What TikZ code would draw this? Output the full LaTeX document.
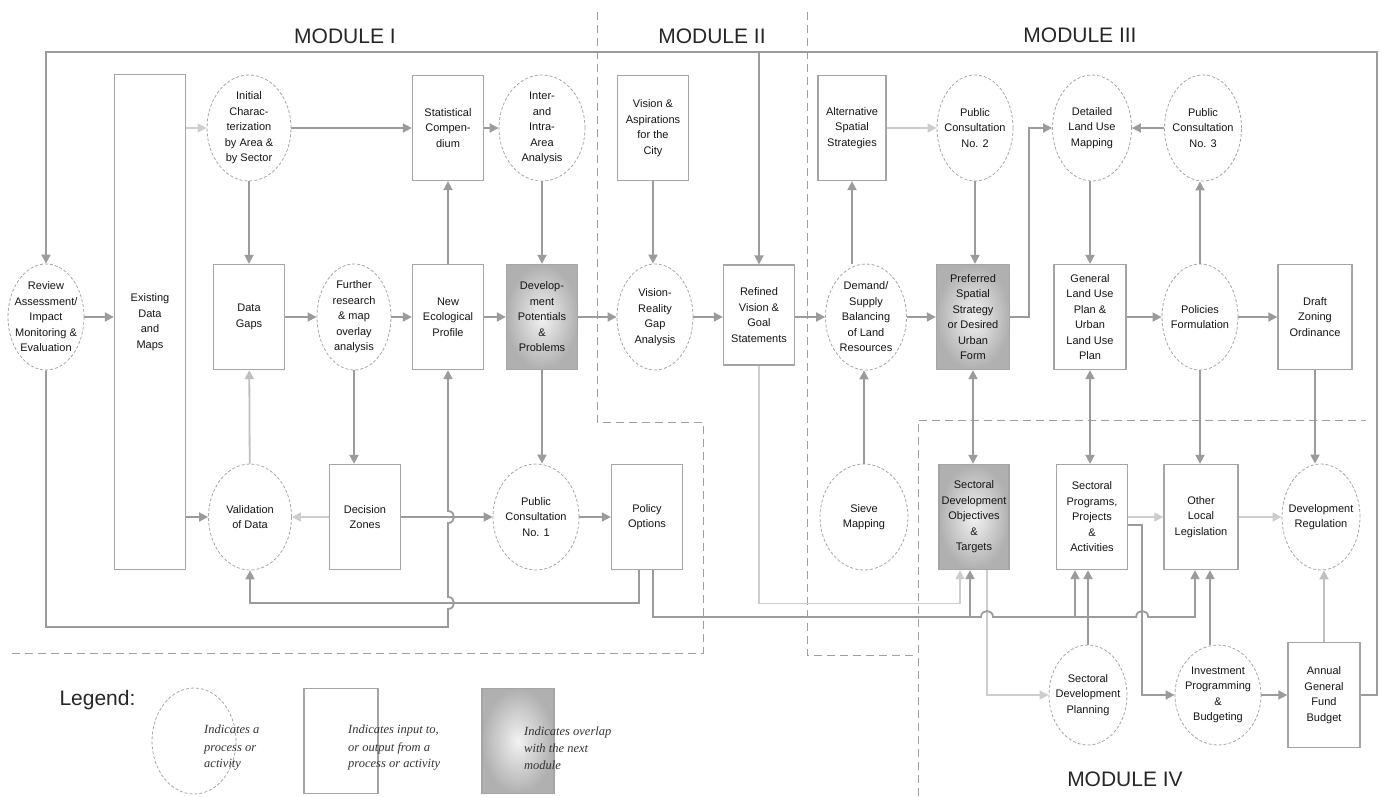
\documentclass[tikz,border=0pt]{standalone}
\usepackage{fontspec}
\setmainfont{Liberation Sans}
\newfontfamily\legserif{Liberation Serif}
\usepackage{xcolor}
\usepackage{tikz}
\usetikzlibrary{arrows.meta,shapes.geometric}

\definecolor{lngray}{RGB}{155,155,155}
\definecolor{ltgray}{RGB}{205,205,205}
\definecolor{bxgray}{RGB}{165,165,165}
\definecolor{txgray}{RGB}{20,20,20}

\newcommand\lblfont{\fontsize{11}{15.5}\selectfont}
\newcommand\titlefont{\fontsize{21}{25}\selectfont}

\tikzset{
  box/.style={rectangle, draw=bxgray, line width=1.3pt, minimum width=71, minimum height=105,
    inner sep=1pt, align=center, text=txgray, font=\lblfont},
  proc/.style={ellipse, draw=bxgray, line width=0.8pt, dash pattern=on 3pt off 2pt,
    minimum width=80, minimum height=106, inner xsep=-10pt, inner ysep=-10pt,
    align=center, text=txgray, font=\lblfont},
  overlap/.style={box, inner color=gray!10, outer color=gray!62},
  arr/.style={draw=lngray, line width=1.8pt, -{Triangle[length=9pt,width=9pt]}},
  farr/.style={arr, draw=ltgray, line width=1.2pt},
  darr/.style={arr, {Triangle[length=9pt,width=9pt]}-{Triangle[length=9pt,width=9pt]}},
  modline/.style={draw=gray!75, line width=0.9pt, dash pattern=on 8pt off 5pt},
  title/.style={font=\titlefont, text=black!85},
  legtext/.style={font=\legserif\itshape\fontsize{12.5}{17}\selectfont, align=left,
    inner sep=0pt, anchor=west, text=black!80}
}

\begin{document}
\begin{tikzpicture}[x=1pt,y=-1pt]
  \path[use as bounding box] (0,0) rectangle (1382,796);

  \node[title] (mod1) at (345,36) {MODULE I};
  \node[title] (mod2) at (712,36) {MODULE II};
  \node[title] (mod3) at (1080,35) {MODULE III};
  \node[title] (mod4) at (1125,779) {MODULE IV};

  \draw[modline] (597,12) -- (597,422) -- (703,422) -- (703,653) -- (8,653);
  \draw[modline] (807,12) -- (807,655) -- (918,655);
  \draw[modline] (918,796) -- (918,420) -- (1366,420);

  % module I
  \node[box, minimum height=495] (exist) at (150,322) {Existing\\Data\\and\\Maps};
  \node[proc, minimum width=84] (ichar) at (249,128) {Initial\\Charac-\\terization\\by Area \&\\by Sector};
  \node[box] (stat) at (448,128) {Statistical\\Compen-\\dium};
  \node[proc, minimum width=86] (inter) at (542,128) {Inter-\\and\\Intra-\\Area\\Analysis};
  \node[proc, minimum width=76] (review) at (46,317) {Review\\Assessment/\\Impact\\Monitoring \&\\Evaluation};
  \node[box] (dgaps) at (249,317) {Data\\Gaps};
  \node[proc, minimum width=74] (further) at (354,317) {Further\\research\\\& map\\overlay\\analysis};
  \node[box] (neweco) at (448,317) {New\\Ecological\\Profile};
  \node[overlap] (devpot) at (542,317) {Develop-\\ment\\Potentials\\\&\\Problems};
  \node[proc, minimum width=83] (valid) at (250,517) {Validation\\of Data};
  \node[box] (dzones) at (365,517) {Decision\\Zones};
  \node[proc, minimum width=86] (pc1) at (536,517) {Public\\Consultation\\No. 1};
  \node[box] (polopt) at (647,517) {Policy\\Options};

  % module II
  \node[box] (vision) at (653,128) {Vision \&\\Aspirations\\for the\\City};
  \node[proc, minimum width=76] (vrgap) at (655,317) {Vision-\\Reality\\Gap\\Analysis};
  \node[box, minimum height=100] (refined) at (759,315) {Refined\\Vision \&\\Goal\\Statements};

  % module III
  \node[box, minimum width=68] (altsp) at (852,128) {Alternative\\Spatial\\Strategies};
  \node[proc, minimum width=76] (pc2) at (975,128) {Public\\Consultation\\No. 2};
  \node[proc, minimum width=79] (detlu) at (1092,128) {Detailed\\Land Use\\Mapping};
  \node[proc, minimum width=77] (pc3) at (1203,128) {Public\\Consultation\\No. 3};
  \node[proc, minimum width=81] (demand) at (866,317) {Demand/\\Supply\\Balancing\\of Land\\Resources};
  \node[overlap, minimum width=73] (prefsp) at (973,317) {Preferred\\Spatial\\Strategy\\or Desired\\Urban\\Form};
  \node[box, minimum width=72] (genlu) at (1090,317) {General\\Land Use\\Plan \&\\Urban\\Land Use\\Plan};
  \node[proc, minimum width=76] (polform) at (1200,317) {Policies\\Formulation};
  \node[box, minimum width=74] (draftz) at (1315,317) {Draft\\Zoning\\Ordinance};
  \node[proc, minimum width=88] (sieve) at (864,517) {Sieve\\Mapping};

  % module IV
  \node[overlap, minimum width=70] (secobj) at (974,517) {Sectoral\\Development\\Objectives\\\&\\Targets};
  \node[box] (secprog) at (1092,517) {Sectoral\\Programs,\\Projects\\\&\\Activities};
  \node[box, minimum width=74] (othleg) at (1201,517) {Other\\Local\\Legislation};
  \node[proc, minimum width=78] (devreg) at (1321,517) {Development\\Regulation};
  \node[proc, minimum width=78, minimum height=100] (secplan) at (1088,695) {Sectoral\\Development\\Planning};
  \node[proc, minimum width=86, minimum height=100] (invest) at (1218,695) {Investment\\Programming\\\&\\Budgeting};
  \node[box, minimum width=72] (annual) at (1324,695) {Annual\\General\\Fund\\Budget};

  % legend
  \node[title, anchor=west] (legend) at (56,700) {Legend:};
  \node[proc, minimum width=84] (lgproc) at (194,741) {};
  \node[legtext] (lgproctxt) at (204,748) {Indicates a\\process or\\activity};
  \node[box, minimum width=74] (lgbox) at (341,741) {};
  \node[legtext] (lgboxtxt) at (348,748) {Indicates input to,\\or output from a\\process or activity};
  \node[overlap, minimum width=72] (lgover) at (518,741) {};
  \node[legtext] (lgovertxt) at (524,748) {Indicates overlap\\with the next\\module};

  \coordinate (fl) at (46,52);
  \coordinate (fr) at (1377,52);
  \coordinate (bl) at (46,627);
  \coordinate (pline) at (0,617);
  \coordinate (hopa) at ([xshift=13]secobj.south |- pline);
  \coordinate (hopb) at ([xshift=14]secprog.east |- pline);

  % feedback frame
  \draw[arr] (annual.east) -- (annual.east -| fr) -- (fr) -- (fl) -- (review.north);
  \draw[arr] (review.south) -- (bl) -- (bl -| neweco.south) -- ++(0,-18)
    .. controls +(8,0) and +(8,0) .. ++(0,-12) -- ++(0,-74)
    .. controls +(8,0) and +(8,0) .. ++(0,-12) -- (neweco.south);
  \draw[arr] (refined.north |- fl) -- (refined.north);

  % module I links
  \draw[farr] (exist.east |- ichar) -- (ichar);
  \draw[arr] (ichar) -- (stat);
  \draw[arr] (stat) -- (inter);
  \draw[arr] (ichar) -- (dgaps);
  \draw[arr] (review.east) -- (review.east -| exist.west);
  \draw[arr] (dgaps) -- (further);
  \draw[arr] (further) -- (neweco);
  \draw[arr] (neweco) -- (stat);
  \draw[arr] (neweco) -- (devpot);
  \draw[arr] (inter) -- (devpot);
  \draw[arr] (further.south) -- (further.south |- dzones.north);
  \draw[arr, draw=gray!50] (valid) -- (dgaps);
  \draw[arr] (exist.east |- valid) -- (valid);
  \draw[farr] (dzones) -- (valid);
  \draw[arr] (dzones) -- (pc1);
  \draw[arr] (devpot.south) -- (devpot.south |- pc1.north);
  \draw[arr] (pc1) -- (polopt);
  \draw[arr] ([xshift=-8]polopt.south) -- ++(0,33) -| (valid.south);

  % module II links
  \draw[arr] (devpot) -- (vrgap);
  \draw[arr] (vision.south) -- (vision.south |- vrgap.north);
  \draw[arr] (vrgap) -- (vrgap -| refined.west);
  \draw[arr] (refined.east |- demand) -- (demand);

  % module III links
  \draw[arr] (altsp.south |- demand.north) -- (altsp.south);
  \draw[farr] (altsp) -- (pc2);
  \draw[arr] (pc2.south) -- (pc2.south |- prefsp.north);
  \draw[arr] (demand) -- (prefsp);
  \draw[arr] (prefsp.east) -- ++(19,0) |- (detlu.west);
  \draw[arr] (pc3) -- (detlu);
  \draw[arr] (detlu.south -| genlu.north) -- (genlu.north);
  \draw[arr] (genlu) -- (polform);
  \draw[arr] (polform.north) -- (polform.north |- pc3.south);
  \draw[arr] (polform) -- (draftz);
  \draw[arr] (sieve.north) -- (sieve.north |- demand.south);
  \draw[darr] (prefsp.south) -- (prefsp.south |- secobj.north);
  \draw[darr] (genlu.south) -- (genlu.south |- secprog.north);
  \draw[arr] (polform.south) -- (polform.south |- othleg.north);
  \draw[arr] (draftz.south) -- (draftz.south |- devreg.north);

  % module IV links
  \draw[farr] (secprog) -- (othleg);
  \draw[farr] (othleg) -- (devreg);
  \draw[arr, draw=gray!50] (annual.north) -- (annual.north |- devreg.south);
  \draw[arr] (invest) -- (annual);
  \draw[arr] ([yshift=-8]secprog.east) -- ++(14,0) |- (invest.west);
  \draw[arr] ([xshift=-8]invest.north) -- ([xshift=-8]invest.north |- othleg.south);
  \draw[arr] (secplan.north) -- (secplan.north |- secprog.south);
  \draw[farr] ([xshift=13]secobj.south) |- (secplan.west);
  \draw[farr] (refined.south) -- ++(0,238) -| ([xshift=-14]secobj.south);
  \draw[arr] ([xshift=6]polopt.south) |- ([xshift=-6]hopa)
    .. controls +(0,-8) and +(0,-8) .. ([xshift=6]hopa) -- ([xshift=-6]hopb)
    .. controls +(0,-8) and +(0,-8) .. ([xshift=6]hopb) -| ([xshift=-6]othleg.south);
  \draw[arr] ([xshift=-4]secobj.south |- pline) -- ([xshift=-4]secobj.south);
  \draw[arr] ([xshift=-17]secprog.south |- pline) -- ([xshift=-17]secprog.south);
\end{tikzpicture}
\end{document}
